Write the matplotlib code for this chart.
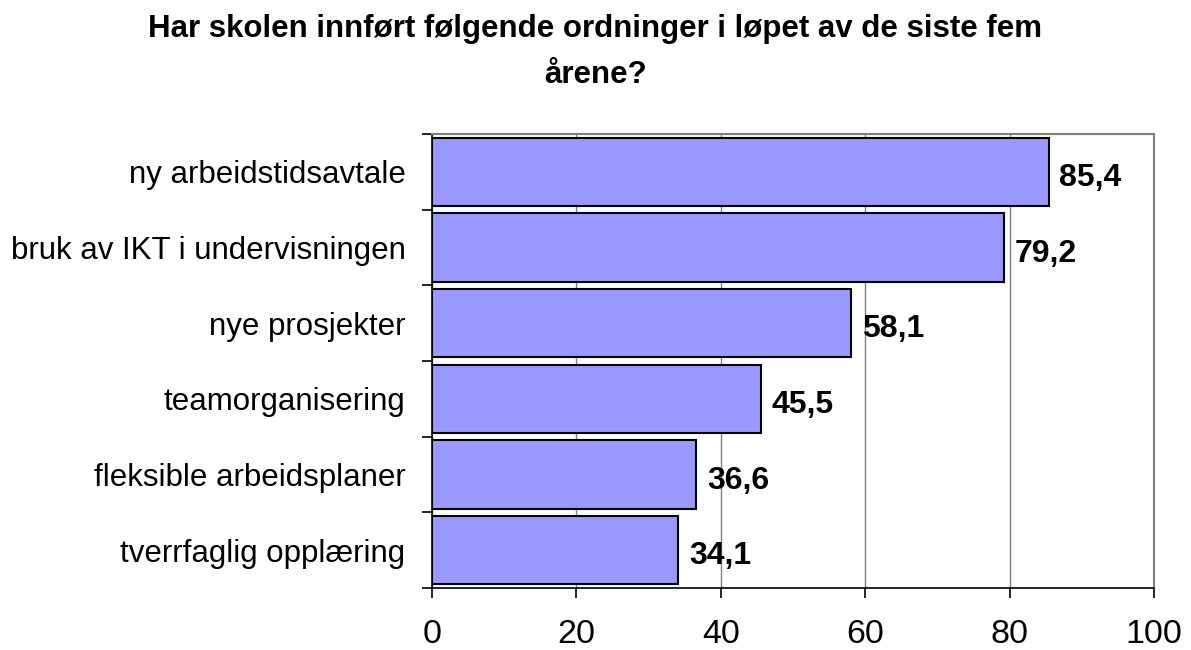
import matplotlib
matplotlib.use('agg')
import matplotlib.pyplot as plt

plt.rcParams['font.family'] = ['Liberation Sans', 'DejaVu Sans']

categories = ['ny arbeidstidsavtale', 'bruk av IKT i undervisningen', 'nye prosjekter',
              'teamorganisering', 'fleksible arbeidsplaner', 'tverrfaglig opplæring']
values = [85.4, 79.2, 58.1, 45.5, 36.6, 34.1]
xticks = [0, 20, 40, 60, 80, 100]

fig = plt.figure(figsize=(11.91, 6.5), dpi=100)
ax = fig.add_axes([432 / 1191, 1 - 588 / 650, (1154 - 432) / 1191, (588 - 134) / 650])

pos = list(range(len(categories)))[::-1]
ax.barh(pos, values, height=0.9, color='#9999FF', edgecolor='black', linewidth=1.5, zorder=3)
for p, v in zip(pos, values):
    ax.text(v + 1.5, p - 0.08, f'{v:.1f}'.replace('.', ','), va='center', ha='left',
            fontsize=23, fontweight='bold', zorder=4)

ax.set_xlim(0, 100)
ax.set_ylim(-0.5, len(categories) - 0.5)
ax.set_xticks(xticks)
ax.set_xticklabels([str(t) for t in xticks], fontsize=24.5)
ax.set_yticks(pos)
ax.set_yticklabels(categories, fontsize=22.5)
ax.set_yticks([i - 0.5 for i in range(len(categories) + 1)], minor=True)
ax.tick_params(axis='y', which='major', length=0, pad=19)
ax.tick_params(axis='y', which='minor', length=7, width=1.2, direction='out')
ax.tick_params(axis='x', length=7, width=1.2, direction='out', pad=15)
ax.grid(axis='x', color='#808080', linewidth=1, zorder=0)

for s in ['top', 'right']:
    ax.spines[s].set_color('#808080')
    ax.spines[s].set_linewidth(1.5)
for s in ['left', 'bottom']:
    ax.spines[s].set_color('black')
    ax.spines[s].set_linewidth(1.2)

fig.text(0.5, 1 - 52 / 650, 'Har skolen innført følgende ordninger i løpet av de siste fem\nårene?',
         ha='center', va='center', fontsize=22.5, fontweight='bold', linespacing=1.7)

fig.savefig('out.png', dpi=100)
